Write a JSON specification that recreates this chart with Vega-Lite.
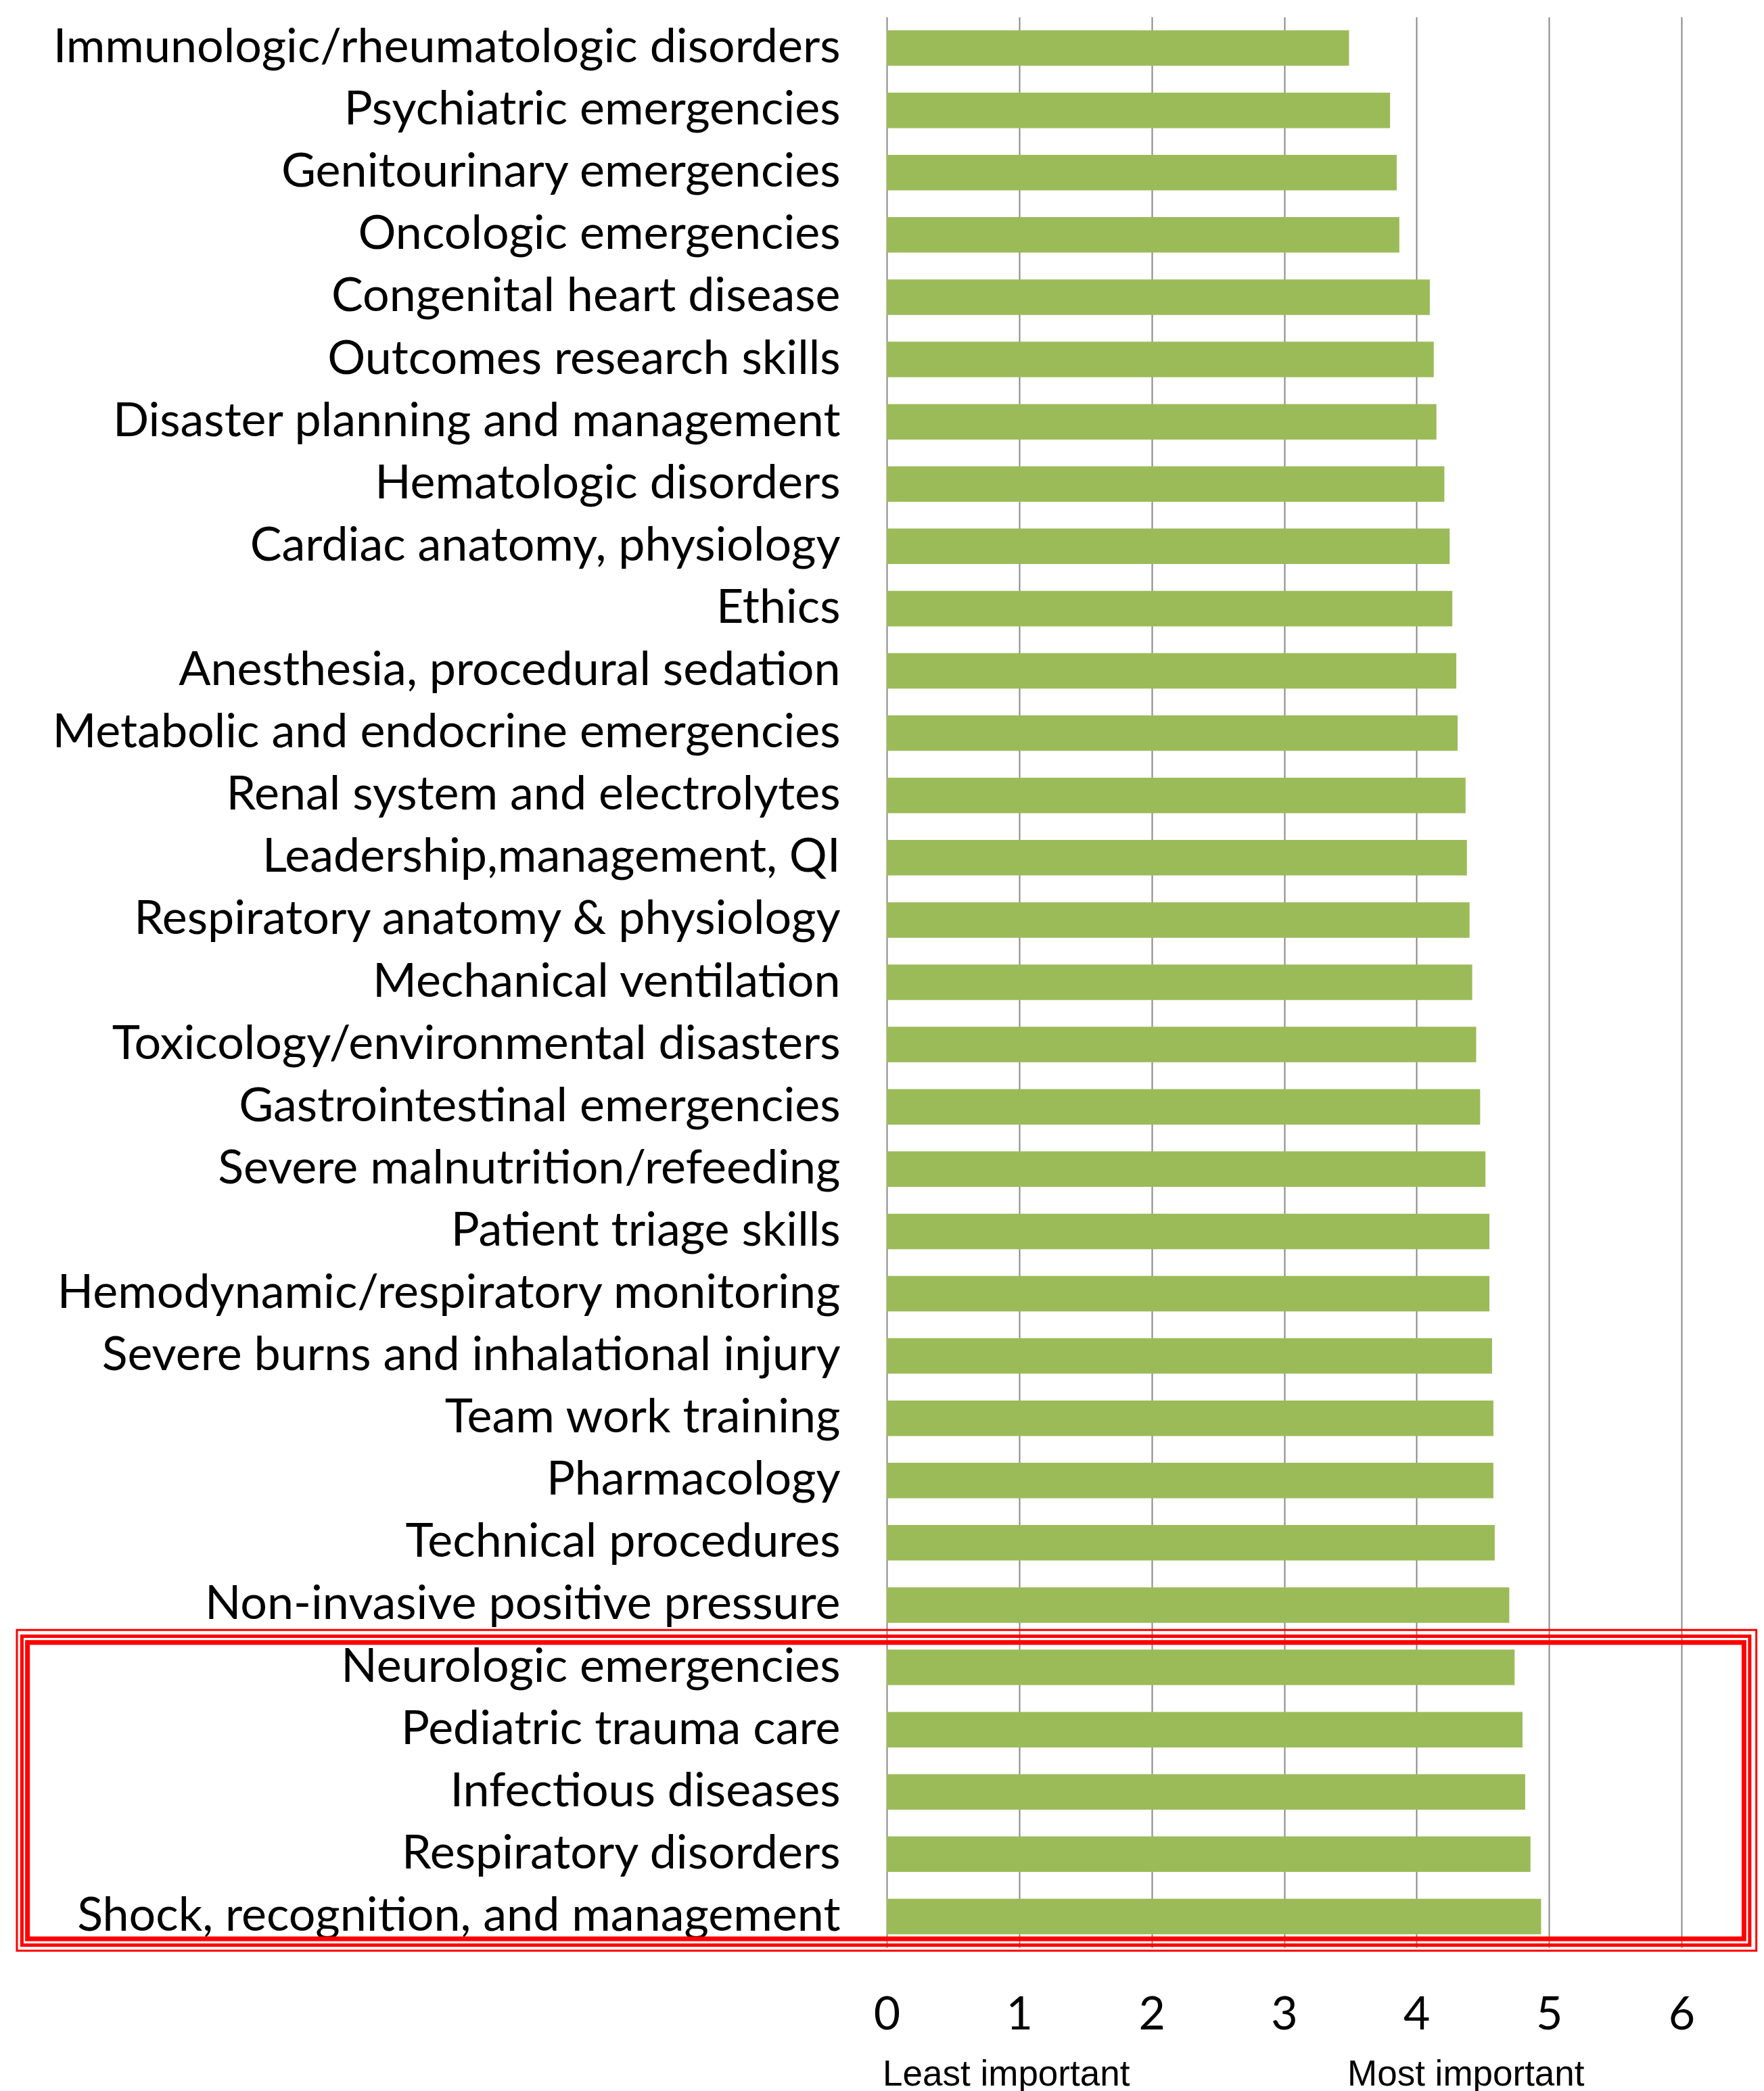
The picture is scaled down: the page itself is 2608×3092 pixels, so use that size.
{
  "$schema": "https://vega.github.io/schema/vega-lite/v6.json",
  "padding": {"left": 23, "top": 25, "right": 10, "bottom": 2},
  "background": "white",
  "config": {"view": {"stroke": null}},
  "datasets": {
    "scores": [
      {"topic": "Immunologic/rheumatologic disorders", "score": 3.49},
      {"topic": "Psychiatric emergencies", "score": 3.80},
      {"topic": "Genitourinary emergencies", "score": 3.85},
      {"topic": "Oncologic emergencies", "score": 3.87},
      {"topic": "Congenital heart disease", "score": 4.10},
      {"topic": "Outcomes research skills\u2005", "score": 4.13},
      {"topic": "Disaster planning and management", "score": 4.15},
      {"topic": "Hematologic disorders\u2005", "score": 4.21},
      {"topic": "Cardiac anatomy, physiology", "score": 4.25},
      {"topic": "Ethics", "score": 4.27},
      {"topic": "Anesthesia, procedural sedation", "score": 4.30},
      {"topic": "Metabolic and endocrine emergencies", "score": 4.31},
      {"topic": "Renal system and electrolytes", "score": 4.37},
      {"topic": "Leadership,management, QI", "score": 4.38},
      {"topic": "Respiratory anatomy & physiology", "score": 4.40},
      {"topic": "Mechanical ventilation", "score": 4.42},
      {"topic": "Toxicology/environmental disasters", "score": 4.45},
      {"topic": "Gastrointestinal emergencies\u2005", "score": 4.48},
      {"topic": "Severe malnutrition/refeeding", "score": 4.52},
      {"topic": "Patient triage skills", "score": 4.55},
      {"topic": "Hemodynamic/respiratory monitoring", "score": 4.55},
      {"topic": "Severe burns and inhalational injury", "score": 4.57},
      {"topic": "Team work training", "score": 4.58},
      {"topic": "Pharmacology\u2005", "score": 4.58},
      {"topic": "Technical procedures", "score": 4.59},
      {"topic": "Non-invasive positive pressure", "score": 4.70},
      {"topic": "Neurologic emergencies", "score": 4.74},
      {"topic": "Pediatric trauma care", "score": 4.80},
      {"topic": "Infectious diseases\u2005", "score": 4.82},
      {"topic": "Respiratory disorders", "score": 4.86},
      {"topic": "Shock, recognition, and management", "score": 4.94}
    ],
    "box": [
      {"line": "outer", "x1": -6.567, "x2": 6.565, "y1": 25.9, "y2": 31.05},
      {"line": "middle", "x1": -6.529, "x2": 6.515, "y1": 26.0, "y2": 30.96},
      {"line": "inner", "x1": -6.487, "x2": 6.472, "y1": 26.1, "y2": 30.86}
    ],
    "anchors": [
      {"label": "Least important", "x": 0.9},
      {"label": "Most important", "x": 4.37}
    ]
  },
  "width": 1175,
  "height": 2855,
  "layer": [
    {
      "data": {"name": "scores"},
      "mark": {"type": "bar", "color": "#9BBB59"},
      "encoding": {
        "y": {
          "field": "topic", "type": "nominal", "sort": null,
          "scale": {"paddingInner": 0.43, "paddingOuter": 0.215},
          "axis": {"title": null, "domain": false, "ticks": false, "tickSize": 0, "labelPadding": 69,
                   "labelFont": "Lato", "labelFontSize": 70, "labelColor": "black", "labelLimit": 0, "labelOverlap": false}
        },
        "x": {
          "field": "score", "type": "quantitative",
          "scale": {"domain": [0, 6], "nice": false},
          "axis": {"title": null, "values": [0, 1, 2, 3, 4, 5, 6], "domain": false, "ticks": false, "tickSize": 0,
                   "grid": true, "gridColor": "#888888", "gridWidth": 2, "gridOpacity": 1,
                   "labelFont": "Lato", "labelFontSize": 68, "labelColor": "black", "labelPadding": 66,
                   "format": "d", "labelFlush": false, "labelOverlap": false}
        }
      }
    },
    {
      "data": {"name": "box"},
      "mark": {"type": "rect", "fill": "white", "fillOpacity": 0, "stroke": "#FF0000"},
      "encoding": {
        "x": {"field": "x1", "type": "quantitative", "scale": {"domain": [0, 6], "nice": false}, "axis": null},
        "x2": {"field": "x2"},
        "y": {"field": "y1", "type": "quantitative", "scale": {"domain": [0, 31], "reverse": true, "nice": false, "zero": false}, "axis": null},
        "y2": {"field": "y2"},
        "strokeWidth": {"field": "line", "type": "ordinal", "scale": {"domain": ["outer", "middle", "inner"], "range": [3, 7, 3]}, "legend": null}
      }
    },
    {
      "data": {"name": "anchors"},
      "mark": {"type": "text", "opacity": 0},
      "encoding": {
        "x": {
          "field": "x", "type": "quantitative",
          "scale": {"domain": [0, 6], "nice": false},
          "axis": {"title": null, "orient": "bottom", "values": [0.9, 4.37],
                   "labelExpr": "datum.value < 2 ? 'Least important' : 'Most important'",
                   "domain": false, "ticks": false, "tickSize": 0, "grid": false, "labelPadding": 161,
                   "labelFont": "Liberation Sans", "labelFontSize": 53, "labelColor": "black",
                   "labelLimit": 0, "labelFlush": false, "labelOverlap": false}
        },
        "text": {"field": "label"}
      }
    }
  ],
  "resolve": {"scale": {"x": "independent", "y": "independent"}, "axis": {"x": "independent", "y": "independent"}}
}
